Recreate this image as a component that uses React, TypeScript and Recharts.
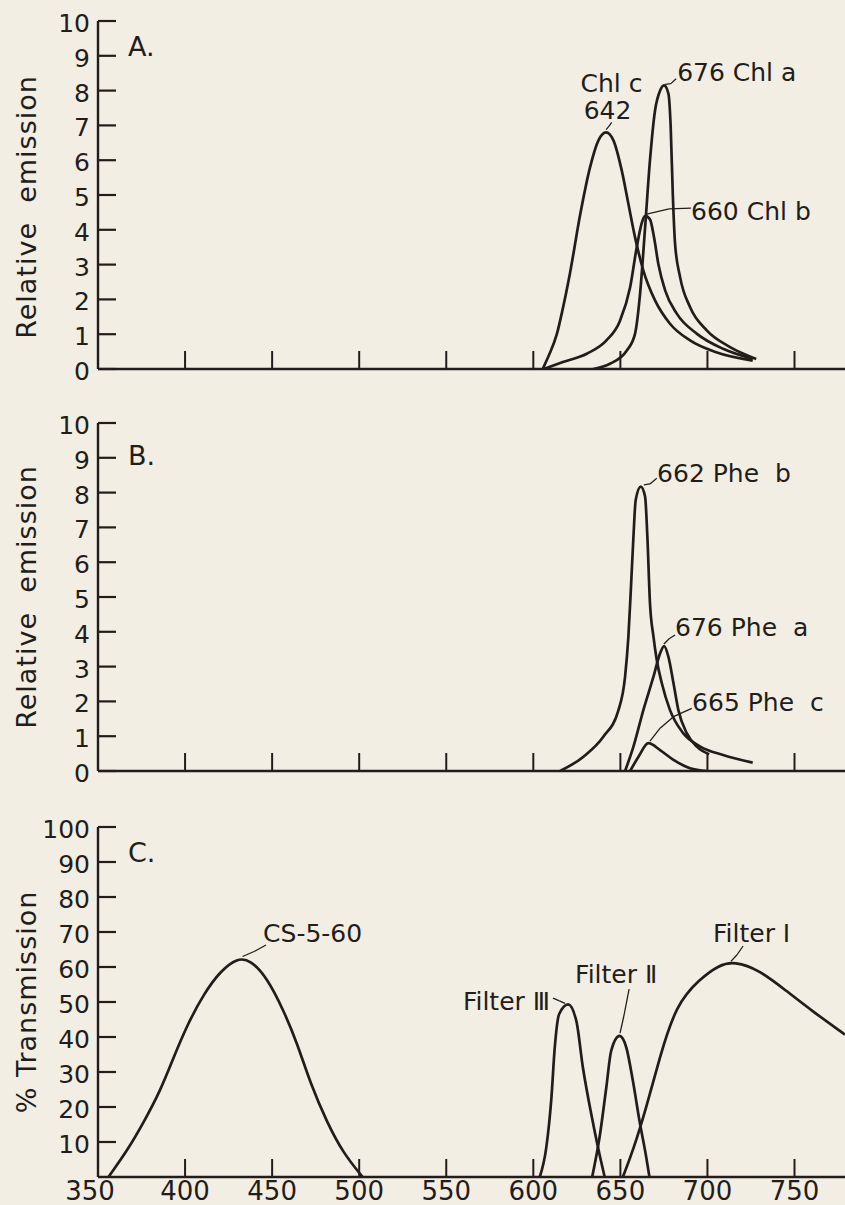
import React from 'react'
import { LineChart, Line, XAxis, YAxis, ReferenceLine, ReferenceDot } from 'recharts'

const INK = '#221d1a'
const PAPER = '#f3eee3'
const FONT = '"DejaVu Sans", "Liberation Sans", sans-serif'
const W = 845

// ── axes ──
const wavelengthTicks = [350, 400, 450, 500, 550, 600, 650, 700, 750]
const emissionTicks = [0, 1, 2, 3, 4, 5, 6, 7, 8, 9, 10]
const transmissionTicks = [10, 20, 30, 40, 50, 60, 70, 80, 90, 100]

// ── A. chlorophylls (nm, relative emission) ──
const chlC = [
    { nm: 605.4, v: 0 }, { nm: 609, v: 0.4 }, { nm: 613.5, v: 1.0 }, { nm: 617, v: 1.75 },
    { nm: 621, v: 2.74 }, { nm: 627, v: 4.46 }, { nm: 632.6, v: 5.8 }, { nm: 637.4, v: 6.57 },
    { nm: 641.8, v: 6.8 }, { nm: 646, v: 6.57 }, { nm: 650.8, v: 5.7 }, { nm: 654.6, v: 4.75 },
    { nm: 658.4, v: 3.79 }, { nm: 663.2, v: 2.83 }, { nm: 669.9, v: 1.97 }, { nm: 678.5, v: 1.3 },
    { nm: 690, v: 0.82 }, { nm: 705, v: 0.48 }, { nm: 726, v: 0.24 },
]
const chlB = [
    { nm: 606, v: 0 }, { nm: 617, v: 0.2 }, { nm: 630.7, v: 0.44 }, { nm: 642, v: 0.82 },
    { nm: 649.8, v: 1.39 }, { nm: 655.6, v: 2.35 }, { nm: 659.4, v: 3.5 }, { nm: 662.3, v: 4.2 },
    { nm: 664.2, v: 4.4 }, { nm: 667, v: 4.3 }, { nm: 669.3, v: 3.79 }, { nm: 671.8, v: 3.02 },
    { nm: 675.7, v: 2.26 }, { nm: 682.4, v: 1.59 }, { nm: 694, v: 1.01 }, { nm: 709, v: 0.58 },
    { nm: 726, v: 0.29 },
]
const chlA = [
    { nm: 634.5, v: 0 }, { nm: 644, v: 0.15 }, { nm: 653.7, v: 0.53 }, { nm: 658.4, v: 1.01 },
    { nm: 661.3, v: 2.16 }, { nm: 664.2, v: 4.07 }, { nm: 667, v: 6.0 }, { nm: 669.9, v: 7.43 },
    { nm: 672.8, v: 8.0 }, { nm: 675.1, v: 8.15 }, { nm: 677.6, v: 7.91 }, { nm: 678.9, v: 6.95 },
    { nm: 680.1, v: 5.03 }, { nm: 681.4, v: 3.6 }, { nm: 684.3, v: 2.64 }, { nm: 690, v: 1.78 },
    { nm: 699.6, v: 1.11 }, { nm: 713, v: 0.63 }, { nm: 728, v: 0.29 },
]

// ── B. pheophytins ──
const pheB = [
    { nm: 615.4, v: 0 }, { nm: 628.8, v: 0.41 }, { nm: 640.3, v: 0.99 }, { nm: 648.9, v: 1.75 },
    { nm: 652.7, v: 2.71 }, { nm: 654.6, v: 3.86 }, { nm: 656.1, v: 5.3 }, { nm: 657.5, v: 6.73 },
    { nm: 658.8, v: 7.79 }, { nm: 661.7, v: 8.17 }, { nm: 664.2, v: 7.88 }, { nm: 665.5, v: 6.73 },
    { nm: 667, v: 4.82 }, { nm: 669, v: 3.86 }, { nm: 670.9, v: 3.19 }, { nm: 673.8, v: 2.52 },
    { nm: 678.5, v: 1.75 }, { nm: 686.2, v: 1.08 }, { nm: 695.9, v: 0.7 }, { nm: 709, v: 0.46 },
    { nm: 726, v: 0.24 },
]
const pheA = [
    { nm: 652.7, v: 0 }, { nm: 657.5, v: 0.7 }, { nm: 663.2, v: 1.75 }, { nm: 669, v: 2.71 },
    { nm: 672.8, v: 3.38 }, { nm: 675.1, v: 3.59 }, { nm: 677.6, v: 3.28 }, { nm: 680.5, v: 2.52 },
    { nm: 683.3, v: 1.75 }, { nm: 688.2, v: 1.08 }, { nm: 693.9, v: 0.7 }, { nm: 701, v: 0.48 },
]
const pheC = [
    { nm: 655.6, v: 0 }, { nm: 660.4, v: 0.41 }, { nm: 666.1, v: 0.8 }, { nm: 672.8, v: 0.6 },
    { nm: 680.5, v: 0.32 }, { nm: 690, v: 0.08 }, { nm: 699.6, v: 0 },
]

// ── C. filters (% transmission) ──
const cs560 = [
    { nm: 356, v: 0 }, { nm: 367, v: 7.7 }, { nm: 376, v: 15.4 }, { nm: 386, v: 24.8 },
    { nm: 393.5, v: 34.3 }, { nm: 401.5, v: 43.7 }, { nm: 410.7, v: 52.3 }, { nm: 420.4, v: 58.9 },
    { nm: 430, v: 62.6 }, { nm: 437.6, v: 62 }, { nm: 447, v: 57 }, { nm: 456.5, v: 47.7 },
    { nm: 464.5, v: 38.1 }, { nm: 472, v: 26.7 }, { nm: 481.7, v: 15.4 }, { nm: 491, v: 6.7 },
    { nm: 502, v: 0 },
]
const filter3 = [
    { nm: 603.7, v: 0 }, { nm: 607.5, v: 8.6 }, { nm: 610.4, v: 22.7 }, { nm: 612.3, v: 36.9 },
    { nm: 614.8, v: 46.5 }, { nm: 620, v: 49.3 }, { nm: 624.7, v: 44.6 }, { nm: 628.5, v: 31.2 },
    { nm: 633.3, v: 17.9 }, { nm: 638, v: 6.5 }, { nm: 641, v: 0 },
]
const filter2 = [
    { nm: 633.8, v: 0 }, { nm: 638, v: 11.2 }, { nm: 641.9, v: 25.5 }, { nm: 644.7, v: 36 },
    { nm: 649.5, v: 40.3 }, { nm: 653.4, v: 37 }, { nm: 657.2, v: 27.4 }, { nm: 661, v: 16 },
    { nm: 664.9, v: 5.5 }, { nm: 666.7, v: 0 },
]
const filter1 = [
    { nm: 651.4, v: 0 }, { nm: 657.2, v: 7.4 }, { nm: 664.9, v: 19.8 }, { nm: 672.5, v: 34.1 },
    { nm: 682, v: 49.3 }, { nm: 695.4, v: 56.5 }, { nm: 706.8, v: 60.6 }, { nm: 715.4, v: 61.6 },
    { nm: 729.7, v: 59.2 }, { nm: 745, v: 53.3 }, { nm: 760.2, v: 47.4 }, { nm: 779, v: 40.7 },
]

// annotations: text anchored at (nm, v), leader polylines in data units
const notesA = [
    { text: 'A.', nm: 367.2, v: 9.0, anchor: 'start', size: 27 },
    { text: 'Chl c', nm: 644.9, v: 7.97, anchor: 'middle' },
    { text: '642', nm: 642.6, v: 7.17, anchor: 'middle' },
    { text: '676 Chl a', nm: 682.6, v: 8.29, anchor: 'start' },
    { text: '660 Chl b', nm: 690.6, v: 4.27, anchor: 'start' },
]
const leadersA = [
    [[645, 7.09], [643.5, 6.98], [641.8, 6.88]],
    [[682, 8.34], [679, 8.2], [675.7, 8.18]],
    [[690.5, 4.62], [678, 4.6], [665.1, 4.45]],
]
const notesB = [
    { text: 'B.', nm: 367.2, v: 8.8, anchor: 'start', size: 27 },
    { text: '662 Phe  b', nm: 671.1, v: 8.3, anchor: 'start' },
    { text: '676 Phe  a', nm: 681.4, v: 3.88, anchor: 'start' },
    { text: '665 Phe  c', nm: 691.2, v: 1.72, anchor: 'start' },
]
const leadersB = [
    [[670.9, 8.41], [667, 8.25], [663.5, 8.22]],
    [[681.4, 3.91], [678, 3.8], [675, 3.65]],
    [[691, 1.8], [680.5, 1.56], [672.8, 1.23], [667, 0.86]],
]
const notesC = [
    { text: 'C.', nm: 367.2, v: 90, anchor: 'start', size: 27 },
    { text: 'CS-5-60', nm: 444.8, v: 67.1, anchor: 'start' },
    { text: 'Filter Ⅲ', nm: 609.6, v: 47.7, anchor: 'end' },
    { text: 'Filter Ⅱ', nm: 624, v: 55.4, anchor: 'start' },
    { text: 'Filter I', nm: 703.2, v: 67.1, anchor: 'start' },
]
const leadersC = [
    [[446.5, 66.3], [440, 64.5], [433, 63]],
    [[611.3, 51.1], [615, 50.3], [618.2, 49.6]],
    [[655, 53.7], [652, 46], [649.8, 41.1]],
    [[720.5, 66], [717, 63.5], [713.5, 61.6]],
]

function YTick(props: any) {
    const { x, y, payload } = props
    const ax = x + 8
    return (
        <g>
            <line x1={ax} x2={ax + 18} y1={y} y2={y} stroke={INK} strokeWidth={2.2} />
            <text x={x} y={y + 11} textAnchor="end" fontFamily={FONT} fontSize={25} fill={INK}>
                {payload.value}
            </text>
        </g>
    )
}

function XTick(props: any) {
    const { x, y, payload, showLabel } = props
    return (
        <g>
            {payload.value !== 350 && (
                <line x1={x} x2={x} y1={y} y2={y - 18} stroke={INK} strokeWidth={2} />
            )}
            {showLabel && (
                <text x={payload.value === 350 ? x - 8 : x} y={y + 23} textAnchor="middle"
                    fontFamily={FONT} fontSize={26} fill={INK}>
                    {payload.value}
                </text>
            )}
        </g>
    )
}

function YTitle(props: any) {
    const { viewBox, text, shift } = props
    const cy = viewBox.y + viewBox.height / 2 + (shift || 0)
    return (
        <text x={0} y={0} transform={`translate(36, ${cy}) rotate(-90)`} textAnchor="middle"
            fontFamily={FONT} fontSize={27} letterSpacing={1} fill={INK} style={{ whiteSpace: 'pre' }}>
            {text}
        </text>
    )
}

type Note = { text: string, nm: number, v: number, anchor: string, size?: number }

function Panel({ top, height, marginTop, axisHeight, yMax, yTicks, title, titleShift, series, notes, leaders, showLabels }: any) {
    return (
        <div style={{ position: 'absolute', left: 0, top }}>
            <LineChart width={W} height={height} margin={{ top: marginTop, right: 0, bottom: 0, left: 0 }}>
                <XAxis type="number" dataKey="nm" domain={[350, 779]} allowDataOverflow ticks={wavelengthTicks}
                    interval={0} height={axisHeight} tickSize={0} tickMargin={0} tickLine={false}
                    axisLine={{ stroke: INK, strokeWidth: 2.4 }} tick={<XTick showLabel={showLabels} />} />
                <YAxis type="number" dataKey="v" domain={[0, yMax]} allowDataOverflow ticks={yTicks} interval={0}
                    width={98} tickSize={0} tickMargin={8} tickLine={false}
                    axisLine={{ stroke: INK, strokeWidth: 2.4 }} tick={<YTick />}
                    label={<YTitle text={title} shift={titleShift} />} />
                {series.map((s: any, i: number) => (
                    <Line key={i} data={s.data} dataKey="v" type={s.curve || 'monotone'} stroke={INK} strokeWidth={2.7}
                        dot={false} activeDot={false} isAnimationActive={false} strokeLinejoin="round" />
                ))}
                {leaders.map((pts: number[][], i: number) => pts.slice(1).map((p, j) => (
                    <ReferenceLine key={`${i}-${j}`} ifOverflow="visible"
                        segment={[{ x: pts[j][0], y: pts[j][1] }, { x: p[0], y: p[1] }]}
                        stroke={INK} strokeWidth={1.3} />
                )))}
                {notes.map((n: Note) => (
                    <ReferenceDot key={n.text} x={n.nm} y={n.v} r={0} ifOverflow="visible"
                        shape={(p: any) => (
                            <text x={p.cx} y={p.cy} textAnchor={n.anchor as any} fontFamily={FONT}
                                fontSize={n.size || 25} fill={INK} style={{ whiteSpace: 'pre' }}>
                                {n.text}
                            </text>
                        )} />
                ))}
            </LineChart>
        </div>
    )
}

export default function App() {
    return (
        <div style={{ position: 'absolute', left: 0, top: 0, width: W, height: 1205, background: PAPER, overflow: 'hidden' }}>
            <Panel top={0} height={400} marginTop={21} axisHeight={31} yMax={10} yTicks={emissionTicks}
                title="Relative  emission" titleShift={12}
                series={[{ data: chlC }, { data: chlB }, { data: chlA }]}
                notes={notesA} leaders={leadersA} showLabels={false} />
            <Panel top={400} height={400} marginTop={23} axisHeight={29} yMax={10} yTicks={emissionTicks}
                title="Relative  emission" titleShift={0}
                series={[{ data: pheB }, { data: pheA }, { data: pheC }]}
                notes={notesB} leaders={leadersB} showLabels={false} />
            <Panel top={800} height={405} marginTop={27} axisHeight={28} yMax={100} yTicks={transmissionTicks}
                title="% Transmission" titleShift={0}
                series={[{ data: cs560, curve: 'basis' }, { data: filter3 }, { data: filter2 }, { data: filter1, curve: 'basis' }]}
                notes={notesC} leaders={leadersC} showLabels />
        </div>
    )
}
